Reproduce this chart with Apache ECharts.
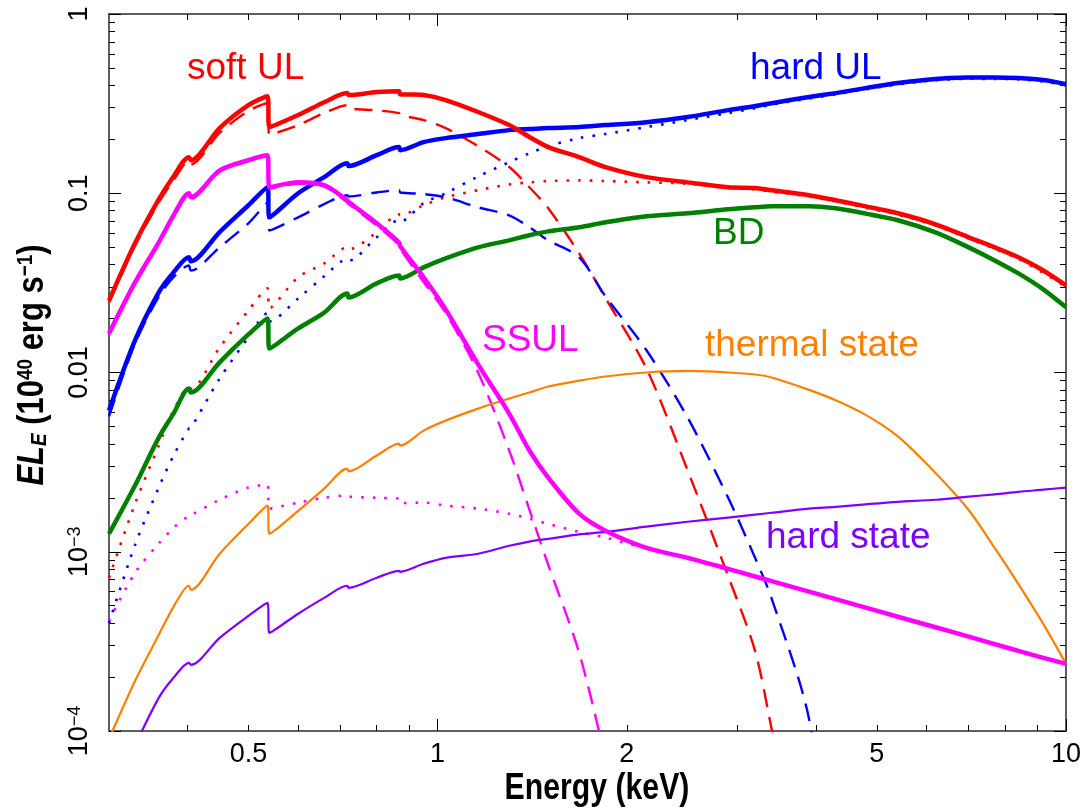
<!DOCTYPE html>
<html>
<head>
<meta charset="utf-8">
<script src="https://cdn.jsdelivr.net/npm/echarts@6/dist/echarts.min.js"></script>
<style>
  html, body { margin: 0; padding: 0; background: #fff; }
  #chart { width: 1091px; height: 810px; }
</style>
</head>
<body>
<div id="chart"></div>
<script>
// energy grid (keV), shared by every curve
const energy = [0.3, 0.33, 0.36, 0.38, 0.402, 0.405, 0.45, 0.5, 0.536, 0.54, 0.6, 0.66, 0.718, 0.722, 0.8, 0.868, 0.872, 0.95,
  1.03, 1.16, 1.3, 1.4, 1.5, 1.68, 1.85, 2.15, 2.5, 2.9, 3.2, 3.4, 3.9, 4.3, 4.8, 5.4, 6.2, 7.0, 7.7, 8.4, 9.2, 10]

// soft UL (red)
const softTotal = [0.0252, 0.0526, 0.0925, 0.124, 0.159, 0.153, 0.231, 0.31, 0.348, 0.234, 0.273, 0.322, 0.362, 0.353, 0.367, 0.371, 0.357, 0.353,
  0.331, 0.284, 0.240, 0.206, 0.181, 0.159, 0.140, 0.123, 0.115, 0.108, 0.107, 0.104, 0.0975, 0.0914, 0.0845, 0.0773, 0.0671, 0.0568, 0.0499, 0.0439, 0.0371, 0.0306]
const softDisk = [0.0245, 0.051, 0.089, 0.118, 0.151, 0.145, 0.217, 0.288, 0.318, 0.212, 0.24, 0.28, 0.31, 0.298, 0.29, 0.28, 0.273, 0.256,
  0.231, 0.183, 0.14, 0.108, 0.0824, 0.0462, 0.026, 0.0105, 0.00284, 0.00073, 0.00028, 0.000103, 0.00001, null, null, null, null, null, null, null, null, null]
const softHard = [7.16e-4, 1.85e-3, 3.91e-3, 6.13e-3, 8.24e-3, 8.1e-3, 0.0138, 0.0222, 0.0295, 0.0228, 0.034, 0.0406, 0.0499, 0.0487, 0.0605, 0.0764, 0.0755, 0.0857,
  0.095, 0.104, 0.112, 0.115, 0.117, 0.118, 0.117, 0.115, 0.113, 0.107, 0.105, 0.102, 0.096, 0.090, 0.083, 0.076, 0.066, 0.056, 0.049, 0.043, 0.036, 0.030]

// hard UL (blue)
const hardTotal = [6.13e-3, 0.0151, 0.028, 0.0362, 0.0439, 0.0417, 0.0607, 0.0857, 0.108, 0.0734, 0.1, 0.123, 0.147, 0.142, 0.163, 0.181, 0.174, 0.193,
  0.203, 0.214, 0.225, 0.228, 0.231, 0.234, 0.24, 0.249, 0.266, 0.291, 0.306, 0.318, 0.344, 0.362, 0.386, 0.412, 0.434, 0.442, 0.443, 0.439, 0.428, 0.406]
const hardDisk = [5.7e-3, 0.0145, 0.0265, 0.034, 0.0395, 0.037, 0.05, 0.068, 0.088, 0.062, 0.0734, 0.087, 0.0975, 0.096, 0.101, 0.104, 0.101, 0.099,
  0.095, 0.0835, 0.0753, 0.0646, 0.0546, 0.0439, 0.0266, 0.0133, 5.6e-3, 2.0e-3, 9.25e-4, 5.5e-4, 1.17e-4, 1e-5, null, null, null, null, null, null, null, null]
const hardHard = [4.0e-4, 1.09e-3, 2.28e-3, 3.44e-3, 4.86e-3, 4.9e-3, 9.25e-3, 0.0157, 0.0214, 0.0193, 0.0259, 0.0344, 0.0428, 0.042, 0.0568, 0.0707, 0.0695, 0.088,
  0.1, 0.124, 0.149, 0.167, 0.183, 0.203, 0.214, 0.234, 0.256, 0.28, 0.298, 0.312, 0.338, 0.356, 0.38, 0.405, 0.427, 0.435, 0.434, 0.432, 0.42, 0.4]

// SSUL (magenta)
const ssulTotal = [0.0165, 0.0318, 0.0532, 0.0753, 0.1, 0.095, 0.134, 0.153, 0.163, 0.108, 0.115, 0.111, 0.0914, 0.0894, 0.068, 0.0532, 0.0506, 0.034,
  0.0225, 0.0111, 5.9e-3, 3.67e-3, 2.59e-3, 1.63e-3, 1.31e-3, 1.05e-3, 9.25e-4, 8.03e-4, 7.28e-4, 6.86e-4, 5.99e-4, 5.44e-4, 4.88e-4, 4.34e-4, 3.79e-4, 3.36e-4, 3.05e-4, 2.8e-4, 2.56e-4, 2.37e-4]
const ssulDisk = [0.0162, 0.0312, 0.052, 0.0735, 0.098, 0.093, 0.132, 0.151, 0.161, 0.106, 0.113, 0.109, 0.089, 0.087, 0.066, 0.0514, 0.049, 0.032,
  0.0215, 0.01, 3.67e-3, 1.72e-3, 8.46e-4, 2.73e-4, 7e-5, null, null, null, null, null, null, null, null, null, null, null, null, null, null, null]
const ssulHard = [4.12e-4, 7.63e-4, 1.11e-3, 1.36e-3, 1.59e-3, 1.6e-3, 1.95e-3, 2.28e-3, 2.37e-3, 1.74e-3, 1.88e-3, 2.0e-3, 2.06e-3, 2.03e-3, 2.0e-3, 1.98e-3, 1.87e-3, 1.88e-3,
  1.81e-3, 1.74e-3, 1.63e-3, 1.53e-3, 1.43e-3, 1.29e-3, 1.2e-3, 1.04e-3, 9.2e-4, 8.0e-4, 7.26e-4, 6.84e-4, 5.97e-4, 5.42e-4, 4.86e-4, 4.33e-4, 3.78e-4, 3.35e-4, 3.04e-4, 2.79e-4, 2.55e-4, 2.36e-4]

// BD (green), thermal state (orange), hard state (purple)
const bdTotal = [1.26e-3, 2.34e-3, 4.33e-3, 5.9e-3, 8.14e-3, 7.73e-3, 0.0114, 0.0163, 0.02, 0.0136, 0.0176, 0.0216, 0.0276, 0.0262, 0.0314, 0.0348, 0.0335, 0.0386,
  0.0433, 0.0499, 0.0546, 0.0583, 0.0613, 0.0646, 0.0689, 0.0744, 0.0773, 0.0814, 0.0835, 0.0846, 0.0846, 0.0824, 0.0770, 0.0707, 0.0605, 0.0499, 0.0422, 0.0357, 0.0291, 0.0231]
const thermalState = [9.0e-5, 1.9e-4, 3.44e-4, 4.93e-4, 6.46e-4, 6.13e-4, 9.75e-4, 1.43e-3, 1.81e-3, 1.26e-3, 1.69e-3, 2.25e-3, 2.91e-3, 2.81e-3, 3.44e-3, 4.01e-3, 3.91e-3, 4.74e-3,
  5.39e-3, 6.29e-3, 7.16e-3, 7.73e-3, 8.35e-3, 9.0e-3, 9.5e-3, 0.01, 0.0102, 0.01, 9.75e-3, 9.38e-3, 8.0e-3, 7.0e-3, 5.8e-3, 4.4e-3, 2.75e-3, 1.71e-3, 1.05e-3, 6.6e-4, 3.96e-4, 2.37e-4]
const hardState = [4e-5, 8.3e-5, 1.53e-4, 1.98e-4, 2.4e-4, 2.34e-4, 3.31e-4, 4.39e-4, 5.19e-4, 3.53e-4, 4.51e-4, 5.53e-4, 6.46e-4, 6.29e-4, 7.16e-4, 7.83e-4, 7.73e-4, 8.57e-4,
  9.25e-4, 9.75e-4, 1.08e-3, 1.14e-3, 1.18e-3, 1.25e-3, 1.29e-3, 1.38e-3, 1.47e-3, 1.55e-3, 1.61e-3, 1.65e-3, 1.74e-3, 1.78e-3, 1.84e-3, 1.9e-3, 1.95e-3, 2.03e-3, 2.09e-3, 2.16e-3, 2.22e-3, 2.28e-3]

// ticks and tick labels
const xMajorTicks = [1, 10]
const xMinorTicks = [0.4, 0.5, 0.6, 0.7, 0.8, 0.9, 2, 3, 4, 5, 6, 7, 8, 9]
const xTickLabels = [0.5, 1, 2, 5, 10]
const yMajorTicks = [1e-4, 1e-3, 0.01, 0.1, 1]
const yMinorTicks = [2e-4, 3e-4, 4e-4, 5e-4, 6e-4, 7e-4, 8e-4, 9e-4, 2e-3, 3e-3, 4e-3, 5e-3, 6e-3, 7e-3, 8e-3, 9e-3,
  0.02, 0.03, 0.04, 0.05, 0.06, 0.07, 0.08, 0.09, 0.2, 0.3, 0.4, 0.5, 0.6, 0.7, 0.8, 0.9]
const yTickText = ['{n|10}{s|−4}', '{n|10}{s|−3}', '0.01', '0.1', '1']

// in-plot labels
const notes = [
  { text: 'soft UL', color: '#ff0000', x: 187, y: 69 },
  { text: 'hard UL', color: '#0000ff', x: 750, y: 69 },
  { text: 'BD', color: '#008000', x: 713, y: 234 },
  { text: 'SSUL', color: '#ff00ff', x: 482, y: 341 },
  { text: 'thermal state', color: '#ff8000', x: 705, y: 346 },
  { text: 'hard state', color: '#8000ff', x: 766, y: 538 },
]

const font = '"Liberation Sans", Arial, Helvetica, sans-serif'

function pairs(vals) {
  return energy.map((e, i) => [e, vals[i]]).filter(p => p[1] != null)
}

function curve(vals, color, width, type) {
  return {
    type: 'line',
    data: pairs(vals),
    xAxisIndex: 0,
    yAxisIndex: 0,
    showSymbol: false,
    symbol: 'none',
    silent: true,
    clip: true,
    smooth: 0.3,
    lineStyle: { color: color, width: width, type: type || 'solid', cap: 'butt', join: 'miter' },
  }
}

const dotted = [2.6, 9]
const dashed = [18, 10]

function xAxisDef(position, ticks, len, labels) {
  return {
    type: 'log', logBase: 10, min: 0.3, max: 10, position: position,
    axisLine: { show: true, onZero: false, lineStyle: { color: '#555', width: 1.5 } },
    axisTick: { show: true, inside: true, length: len, customValues: ticks, lineStyle: { color: '#000', width: 1 } },
    axisLabel: labels ? {
      show: true, customValues: labels, margin: 10, color: '#000', fontSize: 27, fontFamily: font,
      formatter: v => String(+(+v).toPrecision(3)),
    } : { show: false },
    splitLine: { show: false },
  }
}

function yAxisDef(position, ticks, len, labels) {
  return {
    type: 'log', logBase: 10, min: 1e-4, max: 1, position: position,
    axisLine: { show: true, onZero: false, lineStyle: { color: '#555', width: 1.5 } },
    axisTick: { show: true, inside: true, length: len, customValues: ticks, lineStyle: { color: '#000', width: 1 } },
    axisLabel: labels ? {
      show: true, customValues: labels, margin: 16, rotate: 90, color: '#000', fontSize: 27, fontFamily: font,
      formatter: v => yTickText[Math.round(Math.log10(v)) + 4],
      rich: {
        n: { fontSize: 27, fontFamily: font, color: '#000' },
        s: { fontSize: 18, fontFamily: font, color: '#000', verticalAlign: 'top' },
      },
    } : { show: false },
    splitLine: { show: false },
  }
}

const bold = { fontSize: 36, fontWeight: 'bold', fontFamily: font, fill: '#000' }
const boldSmall = { fontSize: 22, fontWeight: 'bold', fontFamily: font, fill: '#000' }

const chart = echarts.init(document.getElementById('chart'), null, { renderer: 'canvas' })

chart.setOption({
  animation: false,
  backgroundColor: '#fff',
  grid: { left: 109, right: 25, top: 14, bottom: 79, show: false },
  xAxis: [
    xAxisDef('bottom', xMajorTicks, 12, xTickLabels),
    xAxisDef('bottom', xMinorTicks, 6),
    xAxisDef('top', xMajorTicks, 12),
    xAxisDef('top', xMinorTicks, 6),
  ],
  yAxis: [
    yAxisDef('left', yMajorTicks, 12, yMajorTicks),
    yAxisDef('left', yMinorTicks, 6),
    yAxisDef('right', yMajorTicks, 12),
    yAxisDef('right', yMinorTicks, 6),
  ],
  series: [
    curve(softHard, '#ff0000', 2.6, dotted),
    curve(hardHard, '#0000ff', 2.6, dotted),
    curve(ssulHard, '#ff00ff', 2.6, dotted),
    curve(softDisk, '#ff0000', 2.4, dashed),
    curve(hardDisk, '#0000ff', 2.4, dashed),
    curve(ssulDisk, '#ff00ff', 2.4, dashed),
    curve(thermalState, '#ff8000', 2.2),
    curve(hardState, '#8000ff', 2.2),
    curve(bdTotal, '#008000', 4.5),
    curve(hardTotal, '#0000ff', 4.5),
    curve(ssulTotal, '#ff00ff', 4.5),
    curve(softTotal, '#ff0000', 4.5),
  ],
  graphic: [
    // axis titles (narrowed bold, like the original)
    {
      type: 'text', x: 597, y: 789, scaleX: 0.84, silent: true,
      style: Object.assign({ text: 'Energy (keV)', textAlign: 'center', textVerticalAlign: 'middle' }, bold),
    },
    {
      type: 'text', x: 33, y: 365, rotation: Math.PI / 2, scaleX: 0.86, silent: true,
      style: {
        text: '{i|EL}{ib|E}{t| (10}{p|40}{t| erg s}{p|−1}{t|)}',
        textAlign: 'center', textVerticalAlign: 'middle',
        rich: {
          i: Object.assign({ fontStyle: 'italic' }, bold),
          ib: Object.assign({ fontStyle: 'italic', verticalAlign: 'bottom' }, boldSmall),
          t: bold,
          p: Object.assign({ verticalAlign: 'top' }, boldSmall),
        },
      },
    },
  ].concat(notes.map(n => ({
    type: 'text',
    x: n.x,
    y: n.y,
    silent: true,
    style: { text: n.text, fill: n.color, font: '37px ' + font, textAlign: 'left', textVerticalAlign: 'middle' },
  }))),
})
</script>
</body>
</html>
